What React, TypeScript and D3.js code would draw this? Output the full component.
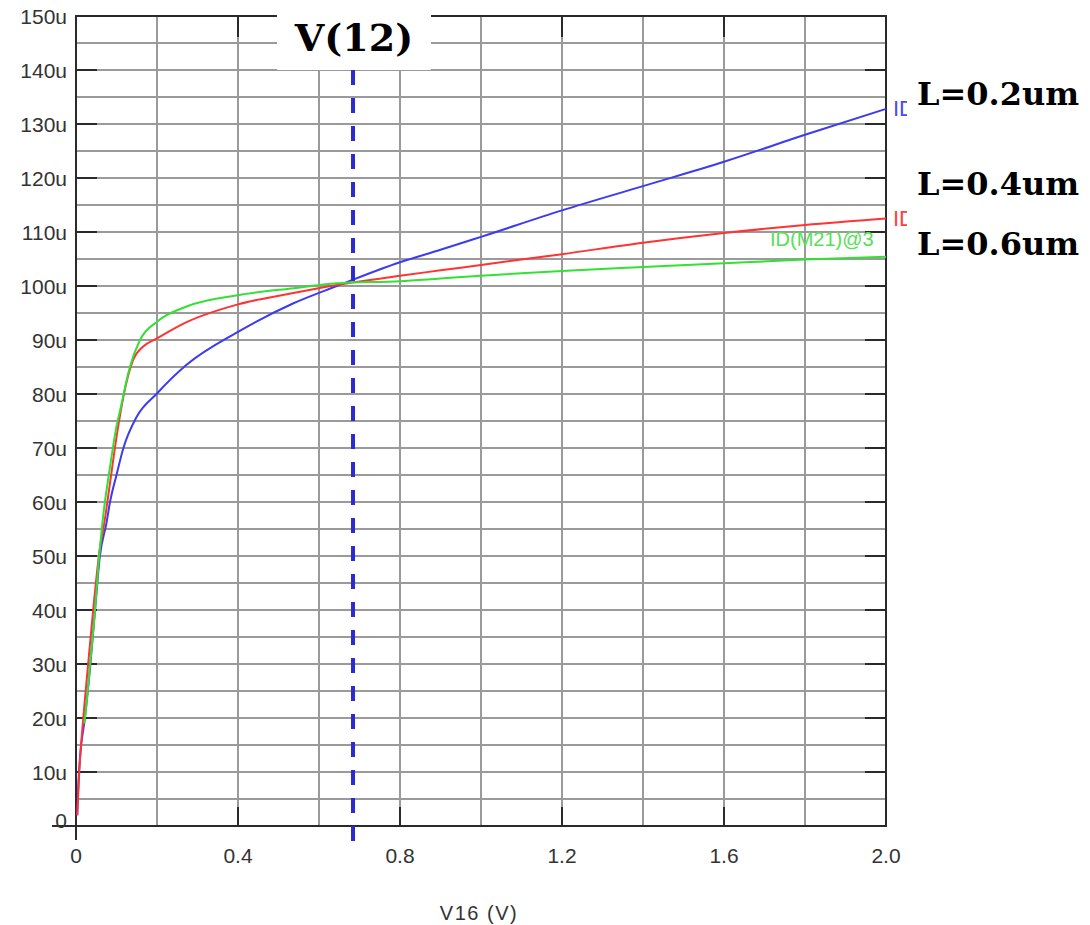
import React from "react";
import * as d3 from "d3";

const xTickValues = [0, 0.4, 0.8, 1.2, 1.6, 2.0];
const xTickLabels = ["0", "0.4", "0.8", "1.2", "1.6", "2.0"];
const yTickValues = [0, 10, 20, 30, 40, 50, 60, 70, 80, 90, 100, 110, 120, 130, 140, 150];
const yTickLabels = ["0", "10u", "20u", "30u", "40u", "50u", "60u", "70u", "80u", "90u", "100u", "110u", "120u", "130u", "140u", "150u"];

// L=0.2um (blue)
const blueV = [0.003, 0.006, 0.01, 0.022, 0.035, 0.047, 0.059, 0.075, 0.084, 0.1, 0.117, 0.15, 0.2, 0.273, 0.4, 0.537, 0.644, 0.8, 0.9, 1.0, 1.2, 1.4, 1.6, 1.8, 2.0];
const blueI = [2, 8, 12.8, 20, 29.5, 40, 50, 56, 60, 65, 70, 75.8, 80.1, 85.4, 91.5, 96.8, 100, 104.4, 106.7, 109.1, 114, 118.5, 123, 128, 132.8];
// L=0.4um (red)
const redV = [0.003, 0.008, 0.018, 0.03, 0.045, 0.06, 0.0675, 0.084, 0.1, 0.117, 0.141, 0.166, 0.2, 0.273, 0.4, 0.537, 0.644, 0.8, 0.9, 1.0, 1.2, 1.4, 1.6, 1.8, 2.0];
const redI = [2, 10, 20, 30, 42, 52, 55, 63.5, 72, 79.5, 86.3, 88.8, 90.3, 93.3, 96.6, 98.7, 100.2, 101.9, 102.9, 103.9, 105.9, 108, 109.8, 111.3, 112.5];
// L=0.6um (green)
const greenV = [0.02, 0.022, 0.035, 0.047, 0.055, 0.065, 0.084, 0.1, 0.109, 0.133, 0.158, 0.2, 0.273, 0.4, 0.537, 0.644, 0.8, 0.9, 1.0, 1.2, 1.4, 1.6, 1.8, 2.0];
const greenI = [19, 20, 30, 40, 48, 56, 66.5, 74, 77, 85, 90, 93.4, 96.2, 98.3, 99.6, 100.5, 100.9, 101.4, 101.9, 102.8, 103.5, 104.2, 104.9, 105.4];

const markerV = 0.684;
const markerLabel = "V(12)";
const seriesLabels = ["L=0.2um", "L=0.4um", "L=0.6um"];
const xAxisTitle = "V16 (V)";

export default function App() {
  const left = 76, right = 886, top = 16, bottom = 826;
  const x = d3.scaleLinear().domain([0, 2]).range([left, right]);
  const y = d3.scaleLinear().domain([0, 150]).range([bottom, top]);
  const line = d3
    .line<[number, number]>()
    .x((d) => x(d[0]))
    .y((d) => y(d[1]))
    .curve(d3.curveMonotoneX);
  const zip = (a: number[], b: number[]) => a.map((v, i) => [v, b[i]] as [number, number]);

  const gridX = d3.range(0, 2.0001, 0.2);
  const gridY = d3.range(0, 150.0001, 5);
  const grey = "#9a9a9a";
  const axisCol = "#2a2a2a";
  const font = "'Liberation Sans', Arial, sans-serif";
  const serif = "'DejaVu Serif', serif";

  return (
    <svg
      width={1090}
      height={925}
      style={{ position: "absolute", left: 0, top: 0, background: "#fff" }}
    >
      <defs>
        <clipPath id="idclip">
          <rect x={886} y={0} width={21} height={925} />
        </clipPath>
      </defs>
      {gridY.map((v) => (
        <line key={"gy" + v} x1={left} x2={right} y1={y(v)} y2={y(v)} stroke={grey} strokeWidth={2} />
      ))}
      {gridX.map((v) => (
        <line key={"gx" + v} x1={x(v)} x2={x(v)} y1={top} y2={bottom} stroke={grey} strokeWidth={2} />
      ))}
      {/* frame */}
      <rect x={left} y={top} width={right - left} height={bottom - top} fill="none" stroke={axisCol} strokeWidth={2} />
      <line x1={left} x2={left} y1={bottom} y2={bottom + 14} stroke={axisCol} strokeWidth={2} />
      <line x1={left - 24} x2={left} y1={bottom} y2={bottom} stroke={axisCol} strokeWidth={2} />
      {/* major ticks */}
      {yTickValues.slice(0, -1).map((v) => (
        <g key={"ty" + v}>
          <line x1={left} x2={left + 21} y1={y(v)} y2={y(v)} stroke={axisCol} strokeWidth={2} />
          <line x1={right - 21} x2={right} y1={y(v)} y2={y(v)} stroke={axisCol} strokeWidth={2} />
        </g>
      ))}
      {xTickValues.slice(1, -1).map((v) => (
        <g key={"tx" + v}>
          <line x1={x(v)} x2={x(v)} y1={bottom} y2={bottom - 19} stroke={axisCol} strokeWidth={2} />
          <line x1={x(v)} x2={x(v)} y1={top} y2={top + 21} stroke={axisCol} strokeWidth={2} />
        </g>
      ))}
      {/* y labels */}
      {yTickValues.map((v, i) => (
        <text
          key={"ly" + v}
          x={67}
          y={v === 0 ? y(v) - 6 : y(v)}
          dy="0.36em"
          textAnchor="end"
          fontFamily={font}
          fontSize={21}
          fill="#333"
        >
          {yTickLabels[i]}
        </text>
      ))}
      {/* x labels */}
      {xTickValues.map((v, i) => (
        <text key={"lx" + v} x={x(v)} y={863} textAnchor="middle" fontFamily={font} fontSize={21} fill="#333">
          {xTickLabels[i]}
        </text>
      ))}
      <text x={479} y={920} textAnchor="middle" fontFamily={font} fontSize={20} letterSpacing={1.5} fill="#333">
        {xAxisTitle}
      </text>

      {/* curves */}
      <path d={line(zip(blueV, blueI)) || ""} fill="none" stroke="#3b3bf0" strokeWidth={2} />
      <path d={line(zip(redV, redI)) || ""} fill="none" stroke="#ff3333" strokeWidth={2} />
      <path d={line(zip(greenV, greenI)) || ""} fill="none" stroke="#33e033" strokeWidth={2} />

      {/* trace labels */}
      <g clipPath="url(#idclip)">
        <text x={893} y={116} fontFamily={font} fontSize={22} fill="#4a4af5">ID</text>
        <text x={893} y={226} fontFamily={font} fontSize={22} fill="#ff4040">ID</text>
      </g>
      <text x={770} y={246} fontFamily={font} fontSize={20} fill="#55e055">ID(M21)@3</text>

      {/* marker */}
      <line
        x1={x(markerV)}
        x2={x(markerV)}
        y1={70}
        y2={846}
        stroke="#2b2bd0"
        strokeWidth={4}
        strokeDasharray="15,13"
      />
      <rect x={277} y={0} width={154} height={70} fill="#fff" />
      <text x={354} y={51} textAnchor="middle" fontFamily={serif} fontWeight="bold" fontSize={38} fill="#000">
        {markerLabel}
      </text>

      {/* series labels */}
      <text x={917} y={105} fontFamily={serif} fontWeight="bold" fontSize={32} fill="#000">{seriesLabels[0]}</text>
      <text x={917} y={195} fontFamily={serif} fontWeight="bold" fontSize={32} fill="#000">{seriesLabels[1]}</text>
      <text x={917} y={255} fontFamily={serif} fontWeight="bold" fontSize={32} fill="#000">{seriesLabels[2]}</text>
    </svg>
  );
}
